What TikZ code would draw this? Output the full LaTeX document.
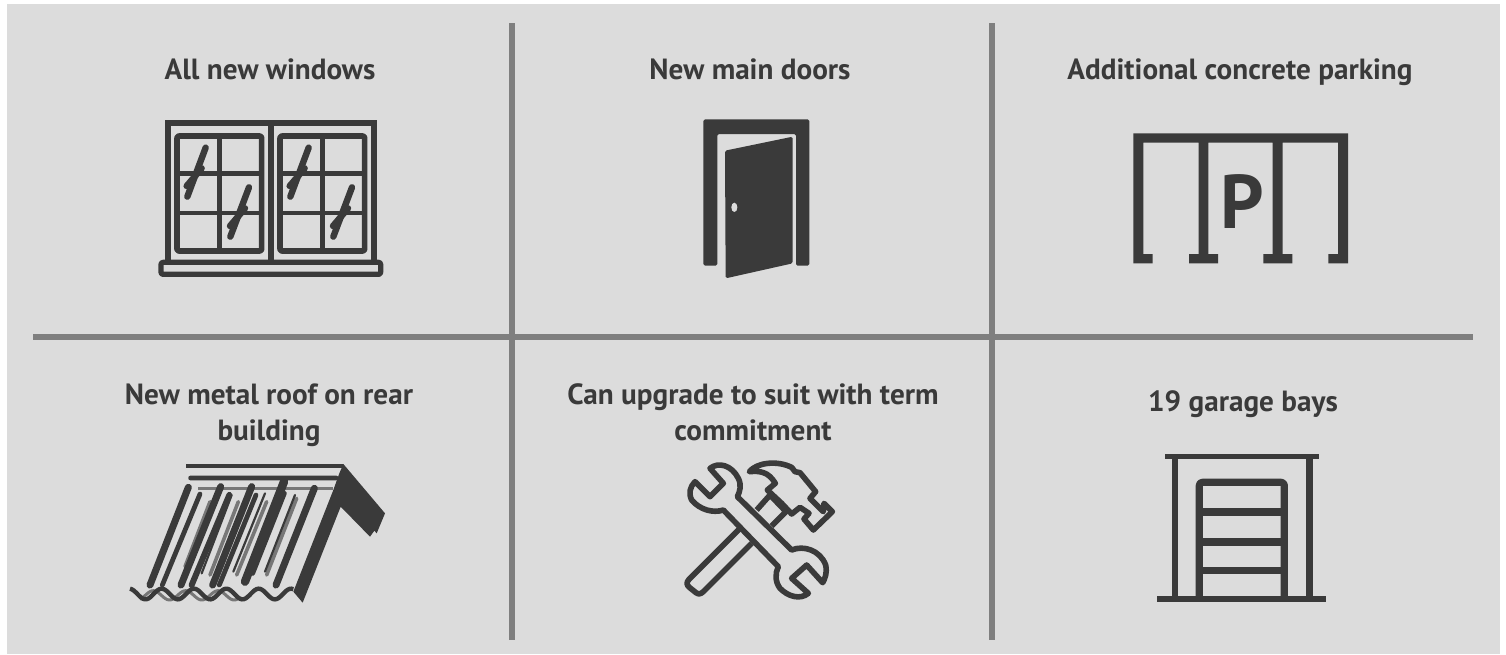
\documentclass[tikz,border=0pt]{standalone}
\usepackage{fontspec}
\setmainfont{PT Sans}
\definecolor{bgc}{HTML}{DCDCDC}
\definecolor{ink}{HTML}{3A3A3A}
\definecolor{rule}{HTML}{7F7F7F}
\definecolor{soft}{HTML}{777777}
\newcommand{\lstr}{\vphantom{Apg}}
\tikzset{
  zoomed/.style 2 args={shift={(#1*0.5pt,#2*-0.5pt)},x=0.16667pt,y=-0.16667pt},
  gridline/.style={draw=rule,line width=3pt},
  label/.style={text=ink,font=\fontsize{14.6pt}{18pt}\selectfont\bfseries,align=center,inner sep=0pt},
  solid ink/.style={fill=ink,draw=none},
  stroke/.style={draw=ink,line join=round},
  slat/.style={draw=ink,line cap=round},
  haze/.style={draw=soft,line cap=round},
}
\begin{document}
\begin{tikzpicture}[x=0.5pt,y=-0.5pt]
\useasboundingbox (0,0) rectangle (1506,654);
\fill[white] (0,0) rectangle (1506,654);
\fill[bgc] (7,4) rectangle (1500,654);
% grid
\coordinate (h1) at (33,337); \coordinate (h2) at (1473,337);
\coordinate (v1a) at (512,23); \coordinate (v1b) at (512,640);
\coordinate (v2a) at (992,23); \coordinate (v2b) at (992,640);
\draw[gridline] (h1) -- (h2);
\draw[gridline] (v1a) -- (v1b);
\draw[gridline] (v2a) -- (v2b);
% labels
\node[label] (t1) at (270,72) {\lstr All new windows};
\node[label] (t2) at (750,72) {\lstr New main doors};
\node[label] (t3) at (1240,72) {\lstr Additional concrete parking};
\node[label] (t4) at (269,415) {\lstr New metal roof on rear\\\lstr building};
\node[label] (t5) at (753,415) {\lstr Can upgrade to suit with term\\\lstr commitment};
\node[label] (t6) at (1243,404) {\lstr 19 garage bays};
% window
\begin{scope}[zoomed={150}{110}]
\fill[solid ink] (44,31) rectangle (681,49);
\fill[solid ink] (44,31) rectangle (62,457);
\fill[solid ink] (663,31) rectangle (681,457);
\fill[solid ink] (354,31) rectangle (372,457);
\draw[stroke,line width=2.6pt,rounded corners=1pt] (33,457) rectangle (692,493);
\foreach \dx in {0,309}{
  \begin{scope}[xshift=\dx*0.16667pt]
  \draw[stroke,line width=2.8pt,rounded corners=1pt] (81,78) rectangle (335,423);
  \draw[stroke,line width=2.6pt] (208,78) -- (208,423);
  \draw[stroke,line width=2.3pt] (81,190) -- (335,190);
  \draw[stroke,line width=2pt] (81,308) -- (335,308);
  \draw[slat,line width=3.2pt] (167,113) -- (112,260);
  \draw[slat,line width=3.2pt] (155,175) -- (110,228);
  \draw[slat,line width=3.2pt] (297,232) -- (241,380);
  \draw[slat,line width=3.2pt] (285,295) -- (240,348);
  \end{scope}
}
\end{scope}
% door
\begin{scope}[zoomed={690}{110}]
\fill[solid ink,rounded corners=0.8pt] (40,28) -- (358,28) -- (358,467) -- (318,467) -- (318,72) -- (82,72) -- (82,467) -- (40,467) -- cycle;
\fill[solid ink,rounded corners=0.8pt] (105,122) -- (308,80) -- (308,460) -- (107,505) -- cycle;
\fill[bgc] (133,292) ellipse [x radius=9,y radius=14];
\end{scope}
% parking
\begin{scope}[zoomed={1120}{120}]
\fill[solid ink] (40,40) -- (684,40) -- (684,430) -- (625,430) -- (625,402) -- (654,402) -- (654,68) -- (488,68) -- (488,402) -- (517,402) -- (517,430) -- (430,430) -- (430,402) -- (458,402) -- (458,68) -- (265,68) -- (265,402) -- (294,402) -- (294,430) -- (207,430) -- (207,402) -- (236,402) -- (236,68) -- (70,68) -- (70,402) -- (98,402) -- (98,430) -- (40,430) -- cycle;
\node[text=ink,font=\fontsize{38pt}{38pt}\selectfont\bfseries,inner sep=0pt] (p) at (366,245) {P};
\end{scope}
% garage
\begin{scope}[zoomed={1150}{445}]
\fill[solid ink] (44,26) rectangle (508,42);
\fill[solid ink] (22,453) rectangle (528,470);
\fill[solid ink] (65,42) rectangle (85,455);
\fill[solid ink] (467,42) rectangle (488,455);
\draw[stroke,line width=3.6pt,rounded corners=1.5pt] (148,455) -- (148,112) -- (403,112) -- (403,455);
\fill[solid ink] (148,188) rectangle (403,212);
\fill[solid ink] (148,278) rectangle (403,302);
\fill[solid ink] (148,366) rectangle (403,388);
\end{scope}
% tools
\begin{scope}[zoomed={660}{450}]
\draw[stroke,line width=2.8pt,fill=none] (240,235) -- (87,388) .. controls (78,398) and (80,405) .. (88,412) -- (108,428) .. controls (116,434) and (122,432) .. (130,425) -- (275,280);
\draw[stroke,line width=2.8pt] (290,180) -- (330,135) -- (378,185) -- (335,228);
\draw[stroke,line width=2.8pt] (268,65) .. controls (290,38) and (350,30) .. (395,52) -- (405,65) -- (420,68) -- (467,125) -- (450,145) -- (490,185) -- (492,160) -- (517,185) -- (460,240) -- (432,207) -- (447,190) -- (420,172) -- (395,192) -- (365,160) -- (322,120) -- (346,100) .. controls (325,65) and (300,62) .. (268,65) -- cycle;
\draw[stroke,line width=2.8pt,fill=bgc] (150,55) .. controls (175,35) and (215,45) .. (235,85) .. controls (245,105) and (240,125) .. (232,140) -- (395,300) .. controls (430,285) and (480,300) .. (497,345) .. controls (502,370) and (495,385) .. (488,398) -- (440,345) -- (395,385) -- (445,430) .. controls (420,450) and (385,440) .. (360,415) .. controls (345,395) and (345,370) .. (355,350) -- (190,180) .. controls (160,190) and (120,180) .. (95,150) .. controls (85,130) and (90,110) .. (105,95) -- (150,140) -- (190,100) -- cycle;
\end{scope}
% roof
\begin{scope}[zoomed={130}{440}]
\foreach \a/\b/\c/\d in {240/185/165/380,325/185/240/405,410/185/320/405,500/175/410/405}
  \draw[haze,line width=1.8pt] (\a,\b) -- (\c,\d);
\fill[solid ink] (640,72) -- (765,220) -- (740,280) -- (733,272) -- (720,290) -- (632,200) -- (518,488) -- (490,455) -- (610,150) -- (628,100) -- cycle;
\fill[solid ink] (167,72) rectangle (640,84);
\fill[solid ink,rounded corners=1pt] (175,107) rectangle (625,121);
\fill[soft] (205,141) rectangle (610,149);
\foreach \a/\b/\c/\d in {175/142/60/435,272/140/153/435,365/140/248/435,553/145/438/435}
  \draw[slat,line width=3.5pt] (\a,\b) -- (\c,\d);
\draw[slat,line width=4.2pt] (462,125) -- (345,425);
\foreach \a/\b/\c/\d in {210/162/97/435,378/165/268/435}
  \draw[slat,line width=2.4pt] (\a,\b) -- (\c,\d);
\draw[slat,line width=3pt] (298,165) -- (185,435);
\draw[slat,line width=2.4pt] (463,160) -- (368,400);
\foreach \a/\b/\c/\d in {305/165/215/400,405/160/310/395,495/165/405/395}
  \draw[slat,line width=1.1pt] (\a,\b) -- (\c,\d);
\draw[soft,line width=1.5pt,smooth] plot[domain=30:330,samples=60] (\x,{466-14*cos((\x-70)*3.71)});
\draw[ink,line width=2.2pt,smooth] plot[domain=0:490,samples=90] (\x,{462-16*cos((\x-95)*3.71)});
\end{scope}
\end{tikzpicture}
\end{document}
